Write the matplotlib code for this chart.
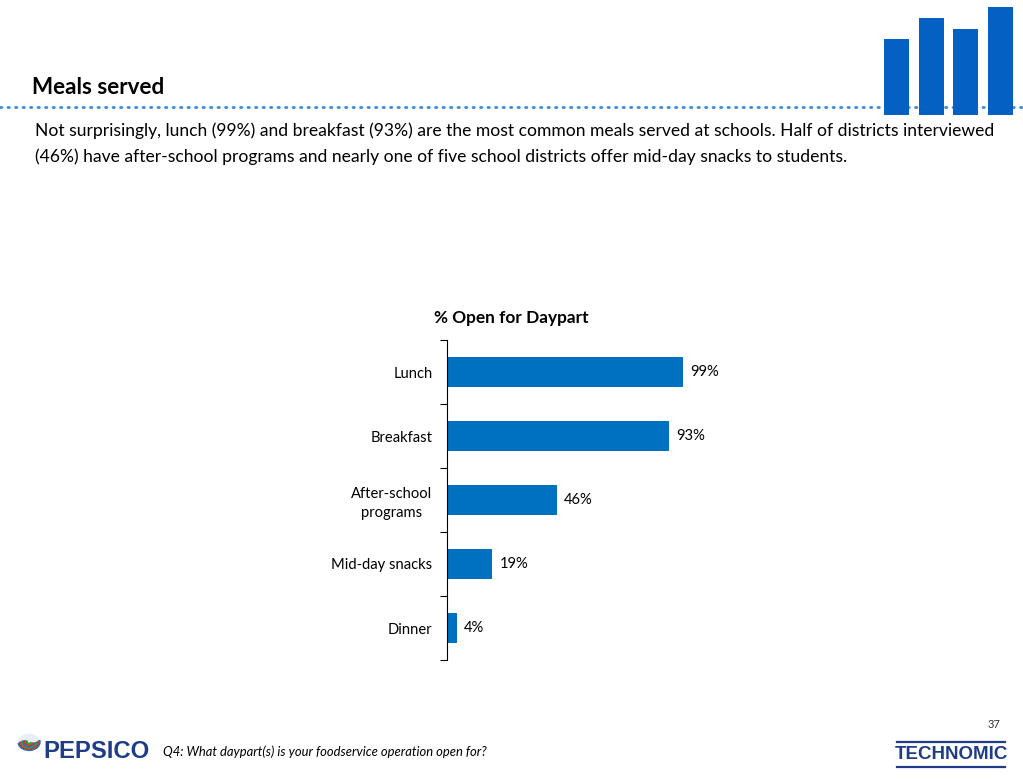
import matplotlib.pyplot as plt
from matplotlib.patches import Circle, Wedge
from matplotlib.lines import Line2D

# data
categories = ['Lunch', 'Breakfast', 'After-school\nprograms', 'Mid-day snacks', 'Dinner']
values = [99, 93, 46, 19, 4]
labels = ['99%', '93%', '46%', '19%', '4%']
deco_heights = [76, 97, 86, 108]   # decorative bars top right

bar_color = '#0070C0'
deco_color = '#0560C4'
navy = '#1F3C88'

plt.rcParams['font.family'] = ['Lato', 'DejaVu Sans']

fig = plt.figure(figsize=(10.23, 7.8), dpi=100)
W, H = 1023, 780

def fx(x):
    return x / W

def fy(y):
    return 1 - y / H

# header
fig.text(fx(32), fy(88), 'Meals served', fontsize=16.2, fontweight='bold', color='black', va='center')
fig.add_artist(Line2D([0, 1], [fy(107), fy(107)], color='#3E8BDB', lw=2.0,
                      linestyle=(0, (0.5, 2.2)), dash_capstyle='round', zorder=-1))

body_lines = ['Not surprisingly, lunch (99%) and breakfast (93%) are the most common meals served at schools. '
              'Half of districts interviewed',
              '(46%) have after-school programs and nearly one of five school '
              'districts offer mid-day snacks to students.']
for i, line in enumerate(body_lines):
    fig.text(fx(35), fy(131 + 26 * i), line, fontsize=12.65, va='center', color='black')

# decorative bars
dax = fig.add_axes([fx(879), fy(115), fx(1018) - fx(879), fy(7) - fy(115)])
dax.bar(range(len(deco_heights)), deco_heights, width=0.72, color=deco_color)
dax.set_xlim(-0.5, len(deco_heights) - 0.5)
dax.set_ylim(0, 108)
dax.axis('off')

# main chart
ax = fig.add_axes([fx(447), fy(660), fx(733) - fx(447), fy(340) - fy(660)])
y = list(range(len(categories)))
ax.barh(y, values, height=0.48, color=bar_color)
for yi, v, lab in zip(y, values, labels):
    ax.text(v + 3, yi, lab, va='center', ha='left', fontsize=10.6, color='black')
ax.set_ylim(len(categories) - 0.5, -0.5)
ax.set_xlim(0, 120)
ax.set_yticks([i - 0.5 for i in range(len(categories) + 1)])
ax.set_yticklabels([])
ax.set_yticks(y, minor=True)
ax.set_yticklabels(categories, minor=True, fontsize=10.6)
ax.tick_params(axis='y', which='minor', length=0, pad=10.5)
ax.tick_params(axis='y', which='major', length=5, direction='out', width=0.8)
ax.set_xticks([])
for s in ['top', 'right', 'bottom']:
    ax.spines[s].set_visible(False)
ax.spines['left'].set_linewidth(0.8)
for t in ax.get_yticklabels(minor=True):
    t.set_multialignment('center')
    t.set_linespacing(1.45)
ax.set_title('% Open for Daypart', fontsize=12.4, fontweight='bold', pad=12, x=0.225)

# footer
fig.text(fx(163), fy(752), 'Q4: What daypart(s) is your foodservice operation open for?',
         fontsize=9.4, style='italic', va='center', color='black')
fig.text(fx(1000), fy(724), '37', fontsize=8, ha='right', va='center', color='#333333')

# pepsico globe + wordmark
cx, cy, r = fx(29), fy(742), 11 / W
fig.add_artist(Circle((cx, cy), r, facecolor='#E8EEF6', edgecolor='none', transform=fig.transFigure))
globe_colors = ['#2E6FB7', '#D9342B', '#3A9B3A', '#2E6FB7', '#D9342B', '#3A9B3A']
for i, c in enumerate(globe_colors):
    fig.add_artist(Wedge((cx, cy), r * (1 - i * 0.15), 190 - i * 8, 370 - i * 8,
                         width=r * 0.09, color=c, transform=fig.transFigure))
fig.text(fx(43), fy(752), 'PEPSICO', fontsize=17.2, fontweight='black', color=navy,
         va='center', family=['Liberation Sans', 'DejaVu Sans'])

# technomic wordmark
fig.add_artist(Line2D([fx(897), fx(1005)], [fy(742), fy(742)], color=navy, lw=1.6))
fig.add_artist(Line2D([fx(897), fx(1005)], [fy(767), fy(767)], color=navy, lw=1.6))
fig.text(fx(951), fy(754.5), 'TECHNOMIC', fontsize=13.5, fontweight='bold', color=navy,
         ha='center', va='center', family=['Liberation Sans Narrow', 'Liberation Sans', 'DejaVu Sans'])

fig.savefig('out.png', dpi=100)
